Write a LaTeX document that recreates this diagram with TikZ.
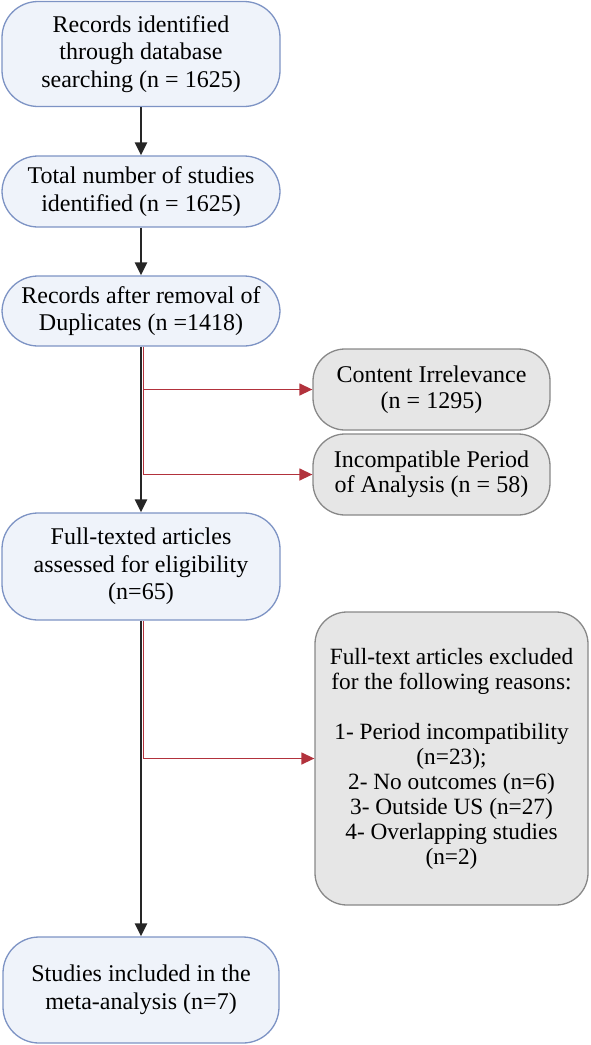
\documentclass[tikz,border=0pt]{standalone}
\usepackage{fontspec}
\setmainfont{Liberation Serif}
\usetikzlibrary{arrows.meta,calc}
\definecolor{bfill}{HTML}{EFF3FA}
\definecolor{bdraw}{HTML}{7D93C4}
\definecolor{gfill}{HTML}{E6E6E6}
\definecolor{gdraw}{HTML}{888888}
\definecolor{rline}{HTML}{B2323C}
\tikzset{
  bluebox/.style={draw=bdraw, fill=bfill, line width=1.3pt, rounded corners=36pt, align=center,
    font=\fontsize{24}{27.5}\selectfont, inner sep=0pt},
  graybox/.style={draw=gdraw, fill=gfill, line width=1.3pt, rounded corners=32pt, align=center,
    font=\fontsize{24}{25.5}\selectfont, inner sep=0pt},
  mainarrow/.style={draw=black!85, line width=2.4pt, -{Triangle[width=12pt,length=13pt]}},
  redarrow/.style={draw=rline, line width=1.4pt, -{Triangle[width=12pt,length=13pt]}}
}
\begin{document}
\begin{tikzpicture}[x=1pt,y=-1pt]
\useasboundingbox (0,0) rectangle (590,1045);
\node[bluebox, minimum width=278pt, minimum height=105pt] (b1) at (141,54) {Records identified\\through database\\searching (n = 1625)};
\node[bluebox, minimum width=278pt, minimum height=71pt] (b2) at (141,191.5) {Total number of studies\\identified (n = 1625)};
\node[bluebox, minimum width=278pt, minimum height=70pt] (b3) at (141,311) {Records after removal of\\Duplicates (n =1418)};
\node[bluebox, minimum width=278pt, minimum height=107pt] (b4) at (141,566.5) {Full-texted articles\\assessed for eligibility\\(n=65)};
\node[bluebox, minimum width=276pt, minimum height=106pt] (b5) at (141,990) {Studies included in the\\meta-analysis (n=7)};
\node[graybox, minimum width=237pt, minimum height=81pt] (gA) at (431.5,389.5) {Content Irrelevance\\(n = 1295)};
\node[graybox, minimum width=237pt, minimum height=81pt] (gB) at (431.5,474.5) {Incompatible Period\\of Analysis (n = 58)};
\node[graybox, minimum width=273pt, minimum height=293pt, font=\fontsize{23.3}{25}\selectfont] (gC) at (451.5,758.5) {Full-text articles excluded\\for the following reasons:\\[25pt]1- Period incompatibility\\(n=23);\\2- No outcomes (n=6)\\3- Outside US (n=27)\\4- Overlapping studies\\(n=2)};
\coordinate (r1) at ($(b3.south)+(2.5,0)$);
\coordinate (r2) at ($(b4.south)+(2.5,0)$);
\draw[redarrow] (r1) |- (gA.west);
\draw[redarrow] (r1) |- (gB.west);
\draw[redarrow] (r2) |- (gC.west);
\draw[mainarrow] (b1.south) -- (b2.north);
\draw[mainarrow] (b2.south) -- (b3.north);
\draw[mainarrow] (b3.south) -- (b4.north);
\draw[mainarrow] (b4.south) -- (b5.north);
\end{tikzpicture}
\end{document}
